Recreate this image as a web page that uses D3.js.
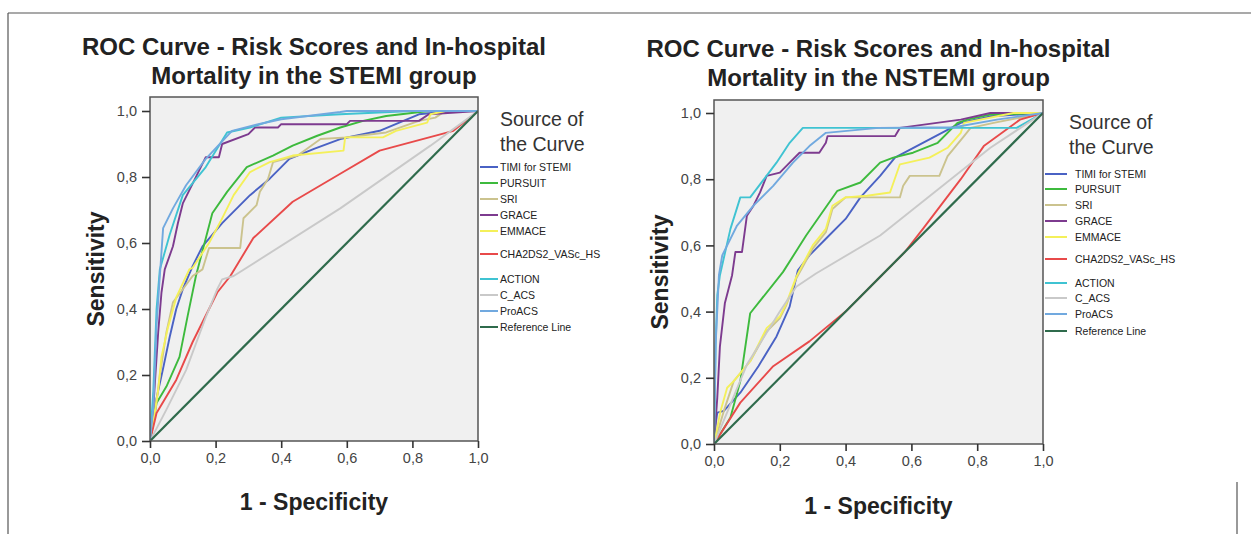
<!DOCTYPE html>
<html><head><meta charset="utf-8">
<script src="https://cdn.jsdelivr.net/npm/d3@7"></script>
<style>
body{margin:0;background:#fff}
svg{display:block}
text{font-family:"Liberation Sans",Arial,Helvetica,sans-serif}
</style>
</head><body>
<svg id="chart" width="1251" height="534"></svg>
<script>
// ---------- data ----------
const seriesNames = ["TIMI for STEMI","PURSUIT","SRI","GRACE","EMMACE","CHA2DS2_VASc_HS","ACTION","C_ACS","ProACS","Reference Line"];
const seriesColors = ["#4a62c4","#3dba3d","#cbc38e","#7d3b8f","#f4f05a","#e84a4a","#3fc3d2","#c9c9c9","#71a9df","#2f6b4c"];
const tickValues = [0,0.2,0.4,0.6,0.8,1.0];
const tickLabels = ["0,0","0,2","0,4","0,6","0,8","1,0"];
const titleSTEMI = ["ROC Curve - Risk Scores and In-hospital","Mortality in the STEMI group"];
const titleNSTEMI = ["ROC Curve - Risk Scores and In-hospital","Mortality in the NSTEMI group"];
const referenceLine = [[0,0],[1,1]];

// STEMI curves [1-specificity, sensitivity]
const stemiTIMI = [[0,0],[0.02,0.13],[0.04,0.22],[0.06,0.315],[0.08,0.40],[0.10,0.46],[0.13,0.53],[0.16,0.59],[0.22,0.66],[0.305,0.745],[0.365,0.795],[0.425,0.855],[0.50,0.885],[0.58,0.915],[0.70,0.94],[0.82,0.99],[0.92,1.0],[1,1]];
const stemiPURSUIT = [[0,0],[0.02,0.115],[0.05,0.165],[0.09,0.255],[0.115,0.38],[0.14,0.50],[0.19,0.69],[0.235,0.755],[0.295,0.83],[0.375,0.865],[0.435,0.895],[0.51,0.925],[0.58,0.95],[0.65,0.97],[0.72,0.985],[0.85,1.0],[1,1]];
const stemiSRI = [[0,0],[0.015,0.08],[0.03,0.2],[0.05,0.33],[0.07,0.42],[0.10,0.46],[0.13,0.50],[0.16,0.52],[0.18,0.585],[0.275,0.585],[0.285,0.675],[0.325,0.715],[0.335,0.755],[0.36,0.795],[0.375,0.845],[0.45,0.865],[0.52,0.915],[0.60,0.92],[0.72,0.935],[0.82,0.97],[0.87,0.98],[0.9,1.0],[1,1]];
const stemiGRACE = [[0,0],[0.01,0.1],[0.025,0.33],[0.035,0.45],[0.045,0.52],[0.07,0.59],[0.085,0.66],[0.10,0.72],[0.13,0.78],[0.17,0.86],[0.21,0.86],[0.22,0.90],[0.30,0.93],[0.32,0.95],[0.39,0.95],[0.40,0.96],[0.60,0.96],[0.61,0.97],[0.82,0.97],[0.85,0.99],[1,1]];
const stemiEMMACE = [[0,0],[0.015,0.09],[0.025,0.155],[0.035,0.255],[0.055,0.345],[0.08,0.435],[0.12,0.52],[0.13,0.525],[0.18,0.60],[0.215,0.665],[0.255,0.745],[0.305,0.815],[0.365,0.845],[0.435,0.865],[0.59,0.88],[0.595,0.92],[0.71,0.92],[0.75,0.94],[0.845,0.965],[0.855,0.99],[0.9,1.0],[1,1]];
const stemiCHA = [[0,0],[0.02,0.085],[0.08,0.185],[0.13,0.30],[0.205,0.45],[0.245,0.50],[0.315,0.615],[0.435,0.725],[0.58,0.81],[0.70,0.88],[0.925,0.94],[1,1]];
const stemiACTION = [[0,0],[0.01,0.15],[0.02,0.40],[0.03,0.52],[0.06,0.625],[0.10,0.745],[0.17,0.83],[0.235,0.935],[0.305,0.95],[0.40,0.98],[0.58,0.99],[0.8,1.0],[1,1]];
const stemiCACS = [[0,0],[0.05,0.095],[0.11,0.215],[0.17,0.375],[0.205,0.46],[0.22,0.49],[0.255,0.50],[0.58,0.705],[0.855,0.895],[1,1]];
const stemiProACS = [[0,0],[0.01,0.1],[0.02,0.35],[0.03,0.50],[0.04,0.645],[0.07,0.705],[0.11,0.775],[0.17,0.855],[0.25,0.94],[0.33,0.96],[0.40,0.975],[0.58,0.997],[0.6,1.0],[1,1]];

// NSTEMI curves
const nstemiTIMI = [[0,0],[0.005,0.06],[0.01,0.095],[0.03,0.10],[0.08,0.155],[0.135,0.235],[0.19,0.325],[0.23,0.415],[0.255,0.525],[0.29,0.57],[0.34,0.62],[0.40,0.68],[0.445,0.745],[0.505,0.81],[0.55,0.865],[0.75,0.97],[0.84,0.99],[1,1]];
const nstemiPURSUIT = [[0,0],[0.05,0.08],[0.08,0.19],[0.11,0.395],[0.21,0.52],[0.28,0.63],[0.375,0.765],[0.445,0.79],[0.505,0.85],[0.545,0.865],[0.605,0.88],[0.68,0.91],[0.74,0.97],[0.77,0.98],[0.84,0.995],[1,1]];
const nstemiSRI = [[0,0],[0.03,0.10],[0.06,0.19],[0.11,0.25],[0.16,0.34],[0.20,0.38],[0.22,0.42],[0.25,0.50],[0.30,0.59],[0.34,0.64],[0.36,0.71],[0.40,0.745],[0.565,0.745],[0.575,0.78],[0.595,0.81],[0.685,0.81],[0.71,0.87],[0.76,0.93],[0.78,0.955],[0.85,0.97],[0.95,0.99],[1,1]];
const nstemiGRACE = [[0,0],[0.01,0.14],[0.018,0.295],[0.033,0.425],[0.055,0.51],[0.065,0.58],[0.085,0.58],[0.10,0.69],[0.12,0.72],[0.14,0.76],[0.16,0.81],[0.20,0.82],[0.23,0.85],[0.26,0.88],[0.32,0.88],[0.34,0.91],[0.345,0.93],[0.55,0.93],[0.565,0.955],[0.75,0.98],[0.84,1.0],[1,1]];
const nstemiEMMACE = [[0,0],[0.02,0.10],[0.04,0.17],[0.06,0.19],[0.11,0.25],[0.16,0.35],[0.20,0.385],[0.22,0.425],[0.25,0.505],[0.30,0.60],[0.34,0.65],[0.36,0.72],[0.40,0.745],[0.465,0.75],[0.535,0.76],[0.565,0.845],[0.655,0.865],[0.71,0.895],[0.75,0.94],[0.76,0.97],[0.91,1.0],[1,1]];
const nstemiCHA = [[0,0],[0.08,0.125],[0.18,0.235],[0.29,0.31],[0.40,0.40],[0.5,0.5],[0.58,0.58],[0.635,0.65],[0.75,0.80],[0.82,0.90],[0.93,0.98],[1,1]];
const nstemiACTION = [[0,0],[0.005,0.3],[0.01,0.45],[0.018,0.51],[0.05,0.65],[0.08,0.745],[0.11,0.745],[0.19,0.85],[0.23,0.91],[0.27,0.955],[0.92,0.955],[1,1]];
const nstemiCACS = [[0,0],[0.05,0.12],[0.1,0.24],[0.2,0.40],[0.25,0.475],[0.31,0.515],[0.505,0.63],[0.84,0.895],[1,1]];
const nstemiProACS = [[0,0],[0.005,0.3],[0.015,0.51],[0.025,0.57],[0.07,0.66],[0.12,0.72],[0.18,0.78],[0.24,0.85],[0.29,0.90],[0.34,0.94],[0.50,0.955],[0.73,0.957],[0.86,0.98],[1,1]];

const stemiSeries = [stemiTIMI,stemiPURSUIT,stemiSRI,stemiGRACE,stemiEMMACE,stemiCHA,stemiACTION,stemiCACS,stemiProACS,referenceLine];
const nstemiSeries = [nstemiTIMI,nstemiPURSUIT,nstemiSRI,nstemiGRACE,nstemiEMMACE,nstemiCHA,nstemiACTION,nstemiCACS,nstemiProACS,referenceLine];

// ---------- drawing ----------
const svg = d3.select("#chart");

// outer frame
svg.append("line").attr("x1",8).attr("y1",13).attr("x2",1251).attr("y2",13).attr("stroke","#555").attr("stroke-width",1.2);
svg.append("line").attr("x1",8).attr("y1",13).attr("x2",8).attr("y2",534).attr("stroke","#555").attr("stroke-width",1.2);
svg.append("line").attr("x1",1237).attr("y1",482).attr("x2",1237).attr("y2",534).attr("stroke","#555").attr("stroke-width",1.2);

function drawPanel(cfg, series, title, id){
  const x = d3.scaleLinear().domain([0,1]).range([cfg.x0,cfg.x1]);
  const y = d3.scaleLinear().domain([0,1]).range([cfg.y0,cfg.y1]);
  const g = svg.append("g");
  g.append("rect").attr("x",cfg.x0).attr("y",cfg.top).attr("width",cfg.x1-cfg.x0).attr("height",cfg.y0-cfg.top)
    .attr("fill","#f0f0f0");
  g.append("clipPath").attr("id","clip"+id).append("rect")
    .attr("x",cfg.x0).attr("y",cfg.top).attr("width",cfg.x1-cfg.x0).attr("height",cfg.y0-cfg.top);
  const line = d3.line().x(d=>x(d[0])).y(d=>y(d[1]));
  const lg = g.append("g").attr("clip-path","url(#clip"+id+")");
  series.forEach((s,i)=>{
    lg.append("path").attr("d",line(s)).attr("fill","none")
      .attr("stroke",seriesColors[i]).attr("stroke-width",i===9?2.2:1.9).attr("stroke-linejoin","round");
  });
  g.append("rect").attr("x",cfg.x0).attr("y",cfg.top).attr("width",cfg.x1-cfg.x0).attr("height",cfg.y0-cfg.top)
    .attr("fill","none").attr("stroke","#555").attr("stroke-width",1.5);
  const ax = g.append("g").attr("transform",`translate(0,${cfg.y0})`)
    .call(d3.axisBottom(x).tickValues(tickValues).tickFormat((d,i)=>tickLabels[i]).tickSize(7).tickPadding(5));
  const ay = g.append("g").attr("transform",`translate(${cfg.x0},0)`)
    .call(d3.axisLeft(y).tickValues(tickValues).tickFormat((d,i)=>tickLabels[i]).tickSize(8).tickPadding(5));
  [ax,ay].forEach(a=>{
    a.select(".domain").remove();
    a.selectAll(".tick line").attr("stroke","#333").attr("stroke-width",1.6);
    a.selectAll(".tick text").attr("fill","#444").style("font-size","14.5px").style("font-family","'Liberation Sans',Arial,sans-serif");
  });
  const cx = (cfg.x0+cfg.x1)/2;
  title.forEach((t,i)=>{
    g.append("text").attr("x",cx).attr("y",cfg.titleY+i*28.5).attr("text-anchor","middle")
      .style("font-size","24px").style("font-weight","bold").attr("fill","#222").text(t);
  });
  g.append("text").attr("x",cx).attr("y",cfg.xTitleY).attr("text-anchor","middle")
    .style("font-size","23px").style("font-weight","bold").attr("fill","#222").text("1 - Specificity");
  g.append("text").attr("transform",`translate(${cfg.yTitleX},${(cfg.y0+cfg.top)/2}) rotate(-90)`).attr("text-anchor","middle")
    .style("font-size","23px").style("font-weight","bold").attr("fill","#222").text("Sensitivity");
  // legend
  const L = g.append("g");
  ["Source of","the Curve"].forEach((t,i)=>{
    L.append("text").attr("x",cfg.legText0).attr("y",cfg.legHeadY+i*25).style("font-size","19.5px").attr("fill","#333").text(t);
  });
  seriesNames.forEach((n,i)=>{
    const yy = cfg.legY[i];
    L.append("line").attr("x1",cfg.legL0).attr("x2",cfg.legL1).attr("y1",yy).attr("y2",yy)
      .attr("stroke",seriesColors[i]).attr("stroke-width",2);
    L.append("text").attr("x",cfg.legT).attr("y",yy+3.8).style("font-size","10.5px").attr("fill","#222").text(n);
  });
}

drawPanel({x0:150,x1:478,y0:441,y1:111,top:97,titleY:55,xTitleY:510,yTitleX:104,
  legText0:500,legHeadY:126,legL0:480,legL1:498,legT:500,
  legY:[167,183,199,215,231,254,279,295,311,327]}, stemiSeries, titleSTEMI, "a");
drawPanel({x0:714,x1:1043,y0:444,y1:113,top:100,titleY:57,xTitleY:514,yTitleX:668,
  legText0:1069,legHeadY:129,legL0:1045,legL1:1067,legT:1075,
  legY:[174,189,205,221,237,259,283,298,314,331]}, nstemiSeries, titleNSTEMI, "b");
</script>
</body></html>
